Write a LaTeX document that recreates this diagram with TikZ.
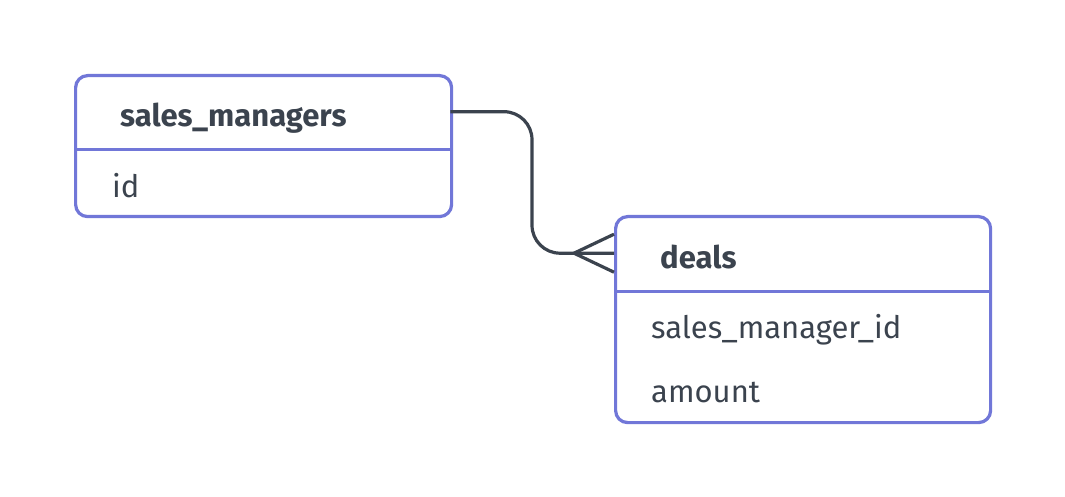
\documentclass[tikz,border=0pt]{standalone}
\usepackage{fontspec}
\setmainfont{Fira Sans}
\usetikzlibrary{positioning,calc}
\definecolor{tblblue}{HTML}{7177D8}
\definecolor{inkgray}{HTML}{3B434E}
\begin{document}
\begin{tikzpicture}[x=1pt,y=-1pt,
    tbl/.style={draw=tblblue,line width=3.2pt,rounded corners=12pt,fill=white,anchor=north west,inner sep=0pt},
    head/.style={anchor=north west,inner sep=0pt},
    title/.style={anchor=base west,inner sep=0pt,text=inkgray,font=\fontsize{31}{36}\selectfont\bfseries},
    field/.style={anchor=base west,inner sep=0pt,text=inkgray,font=\fontsize{31}{36}\selectfont},
    conn/.style={draw=inkgray,line width=3.2pt}]
    \useasboundingbox (0,0) rectangle (1065,497);

    % sales_managers table
    \node[tbl,minimum width=376pt,minimum height=141pt] (managers) at (74,74) {};
    \node[head,minimum width=376pt,minimum height=75pt] (managers-head) at (74,74) {};
    \draw[tblblue,line width=3.2pt] (managers-head.south west) -- (managers-head.south east);
    \node[title] (managers-title) at (120,127) {sales\_managers};
    \node[field] (managers-id) at (112,197) {id};

    % deals table
    \node[tbl,minimum width=375pt,minimum height=206pt] (deals) at (614,215) {};
    \node[head,minimum width=375pt,minimum height=76pt] (deals-head) at (614,215) {};
    \draw[tblblue,line width=3.2pt] (deals-head.south west) -- (deals-head.south east);
    \node[title] (deals-title) at (660,268) {deals};
    \node[field] (deals-manager) at (651,338) {sales\_manager\_id};
    \node[field] (deals-amount) at (651,402) {amount};

    % relation, many deals per manager
    \coordinate (bend) at (532,180);
    \draw[conn,rounded corners=28pt] (managers-head.east) -| (bend) |- (deals-head.west);
    \draw[conn] ($(deals-head.west)+(0,-19)$) -- ($(deals-head.west)+(-40,0)$)
         -- ($(deals-head.west)+(0,19)$);
\end{tikzpicture}
\end{document}
